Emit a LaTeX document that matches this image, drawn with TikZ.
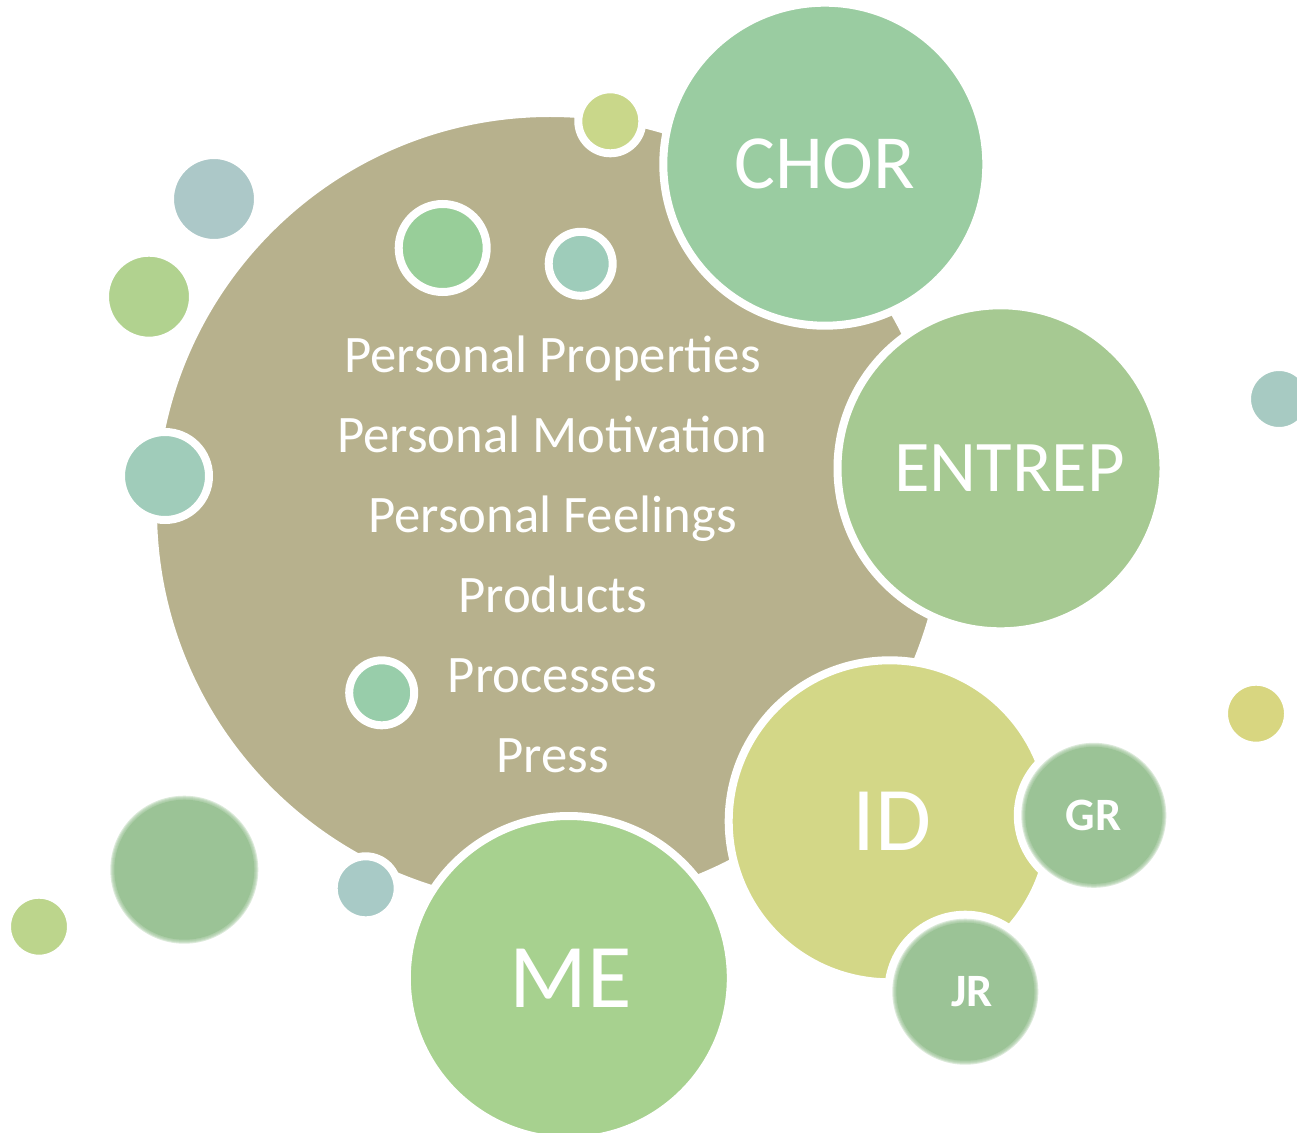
\documentclass[tikz,border=0pt]{standalone}
\usepackage{fontspec}
\setmainfont{Carlito}
\usepackage{tikz}
\definecolor{coretan}{HTML}{B7B18D}
\definecolor{chorgreen}{HTML}{9ACCA1}
\definecolor{entgreen}{HTML}{A6C992}
\definecolor{idyellow}{HTML}{D3D787}
\definecolor{megreen}{HTML}{A7D18F}
\definecolor{sage}{HTML}{9BC396}
\definecolor{dotgrey}{HTML}{ACC8C8}
\definecolor{dotlime}{HTML}{B1D28F}
\definecolor{dotmint}{HTML}{A0CCBA}
\definecolor{dotgreen}{HTML}{98CE99}
\definecolor{dotteal}{HTML}{9ECCBA}
\definecolor{dotolive}{HTML}{C9D78A}
\definecolor{dotjade}{HTML}{98CDAA}
\definecolor{dotblue}{HTML}{A8CAC6}
\definecolor{dotpale}{HTML}{BCD58C}
\definecolor{dotsea}{HTML}{A7CAC2}
\definecolor{dotgold}{HTML}{D8D680}
\tikzset{
    every node/.style={circle, inner sep=0mm, draw=white, line width=0.8mm, text=white}
}
\tikzset{word/.style={shape=rectangle, draw=none, anchor=base, font=\fontsize{15}{18}\selectfont}}
\tikzset{soft/.style={draw=none, fill=sage, font=\bfseries\fontsize{13.2}{16}\selectfont}}
\tikzset{halo/.style={fill=sage, opacity=.35}}

\begin{document}
\begin{tikzpicture}
        \useasboundingbox (0cm, 0cm) rectangle (12.97cm, -11.32cm);
        % the big disc and the small dots around it
        \node (core) [fill=coretan, minimum size=7.94cm] at (5.500000cm, -5.100000cm) {};
        \node (d0) [fill=dotgrey, minimum size=0.88cm] at (2.140000cm, -1.990000cm) {};
        \node (d1) [fill=dotlime, minimum size=0.88cm] at (1.490000cm, -2.967000cm) {};
        \node (d2) [fill=dotmint, minimum size=0.88cm] at (1.650000cm, -4.760000cm) {};
        \node (d3) [fill=dotgreen, minimum size=0.88cm] at (4.427000cm, -2.480000cm) {};
        \node (d4) [fill=dotteal, minimum size=0.64cm] at (5.807000cm, -2.638000cm) {};
        \node (d5) [fill=dotolive, minimum size=0.64cm] at (6.103000cm, -1.213000cm) {};
        \node (d6) [fill=dotjade, minimum size=0.65cm] at (3.817000cm, -6.928000cm) {};
        \node (d7) [fill=dotblue, minimum size=0.64cm] at (3.657000cm, -8.883000cm) {};
        \node (d8) [fill=dotpale, minimum size=0.64cm] at (0.390000cm, -9.267000cm) {};
        \node (d9) [fill=dotsea, minimum size=0.64cm] at (12.790000cm, -3.990000cm) {};
        \node (d10) [fill=dotgold, minimum size=0.64cm] at (12.560000cm, -7.137000cm) {};
        % list in the big disc
        \node (w0) [word] at (5.525000cm, -3.720000cm) {Personal Properties};
        \node (w1) [word] at (5.525000cm, -4.520000cm) {Personal Motivation};
        \node (w2) [word] at (5.525000cm, -5.320000cm) {Personal Feelings};
        \node (w3) [word] at (5.525000cm, -6.120000cm) {Products};
        \node (w4) [word] at (5.525000cm, -6.920000cm) {Processes};
        \node (w5) [word] at (5.525000cm, -7.720000cm) {Press};
        % outer discs
        \node (chor) [fill=chorgreen, minimum size=3.23cm, font=\fontsize{21.8}{26}\selectfont] at (8.248000cm, -1.642000cm) {CHOR};
        \node (entrep) [fill=entgreen, minimum size=3.26cm, font=\fontsize{20.7}{25}\selectfont] at (10.005000cm, -4.683000cm) {\hspace*{0.18cm}ENTREP};
        \node (id) [fill=idyellow, minimum size=3.22cm, font=\fontsize{25.9}{31}\selectfont] at (8.897000cm, -8.213000cm) {\hspace*{0.04cm}ID};
        \node (me) [fill=megreen, minimum size=3.24cm, font=\fontsize{25.9}{31}\selectfont] at (5.688000cm, -9.780000cm) {\hspace*{0.04cm}ME};
        % soft edged discs
        \coordinate (blobc) at (1.843000cm, -8.697000cm);
        \coordinate (grc) at (10.938000cm, -8.153000cm);
        \coordinate (jrc) at (9.653000cm, -9.917000cm);
        \foreach \r in {0.74, 0.73, 0.72, 0.71}
                \fill [halo] (blobc) circle (\r cm);
        \node (blob) [soft, minimum size=1.40cm] at (blobc) {};
        \fill [white] (grc) circle (0.80cm);
        \foreach \r in {0.725, 0.715, 0.705, 0.695}
                \fill [halo] (grc) circle (\r cm);
        \node (gr) [soft, minimum size=1.37cm] at (grc) {GR};
        \fill [white] (jrc) circle (0.81cm);
        \foreach \r in {0.73, 0.72, 0.71, 0.70}
                \fill [halo] (jrc) circle (\r cm);
        \node (jr) [soft, minimum size=1.38cm] at (jrc) {\hspace*{0.14cm}JR};
\end{tikzpicture}
\end{document}
